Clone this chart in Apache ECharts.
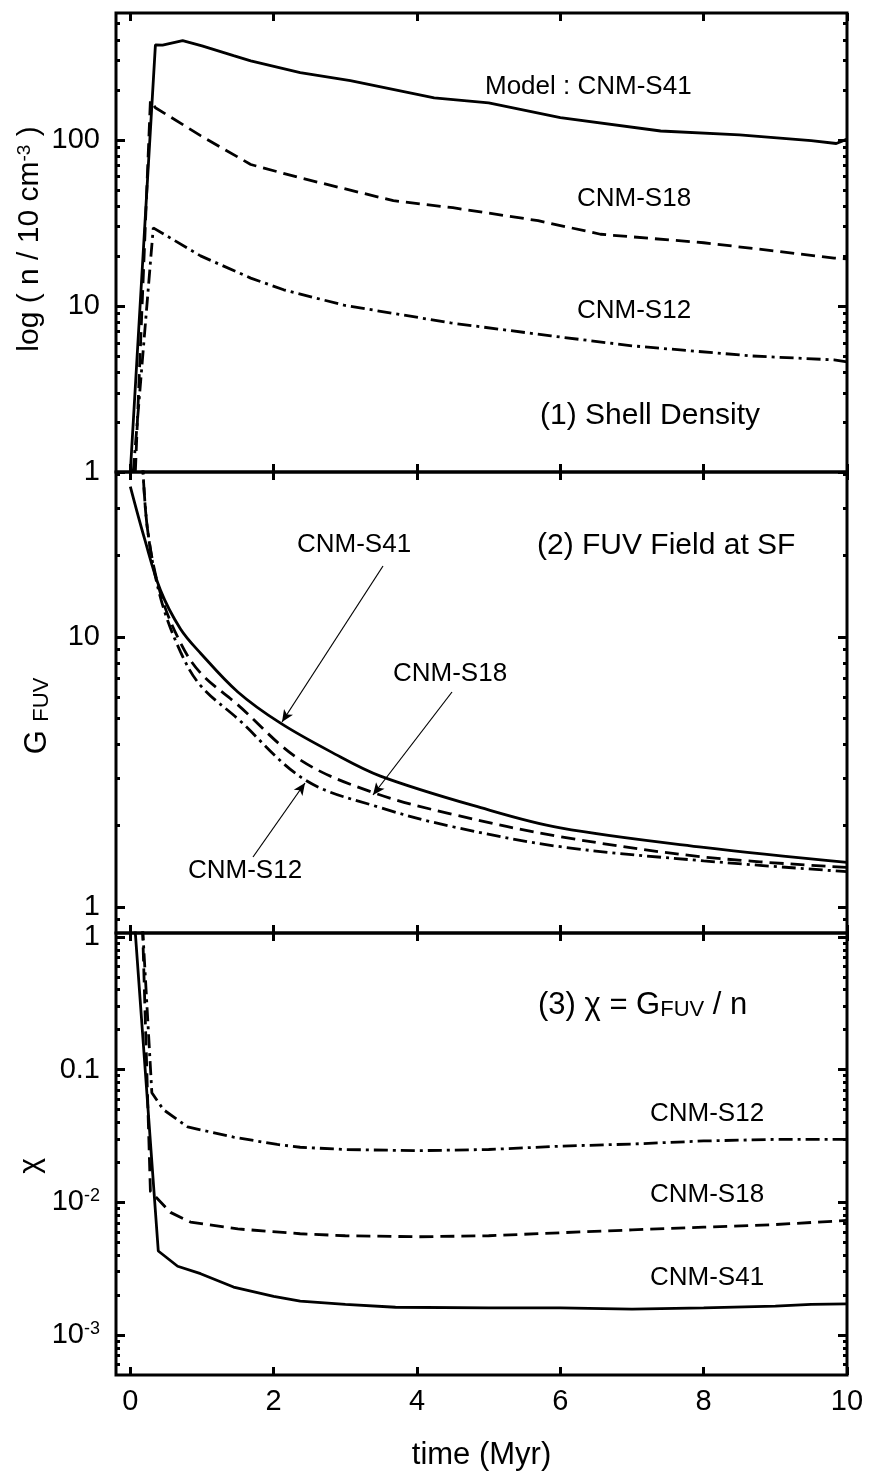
<!DOCTYPE html>
<html>
<head>
<meta charset="utf-8">
<title>Shell density, FUV field and chi</title>
<script src="https://cdn.jsdelivr.net/npm/echarts@6/dist/echarts.min.js"></script>
<style>
  html, body { margin: 0; padding: 0; background: #fff; }
  #chart { width: 874px; height: 1476px; }
</style>
</head>
<body>
<div id="chart"></div>
<script>
/* ---------- data ---------- */
// x ticks (time, Myr)
var xTicks = [0, 2, 4, 6, 8, 10];

// (1) shell density  n / 10 cm^-3
var tDens41 = [0, 0.35, 0.45, 0.73, 1.0, 1.44, 1.68, 2.37, 3.07, 4.24, 5.0, 6.0, 7.4, 8.5, 9.5, 9.85, 10];
var nDens41 = [1, 373, 372, 395, 368, 321, 299, 254, 227, 179, 167, 136, 113, 107, 99, 95, 101];
var tDens18 = [0.07, 0.28, 0.35, 0.98, 1.68, 2.37, 3.67, 4.5, 5.69, 6.56, 8.0, 9.0, 9.82, 10];
var nDens18 = [1, 172, 156, 106, 71, 59, 43, 39, 32.6, 27, 24, 21.4, 19.4, 19.2];
var tDens12 = [0.04, 0.32, 0.98, 1.68, 2.14, 2.98, 4.47, 5.87, 7.0, 8.66, 9.82, 10];
var nDens12 = [1, 29.5, 20, 14.7, 12.5, 10.1, 7.9, 6.6, 5.75, 5.0, 4.73, 4.6];

// (2) FUV field at the shock front
var tFuv41 = [0, 0.2, 0.42, 0.7, 0.98, 1.5, 2.09, 2.8, 3.49, 4.89, 6.0, 8.0, 10];
var gFuv41 = [36, 23, 14.9, 10.7, 8.7, 6.25, 4.8, 3.75, 3.05, 2.33, 1.96, 1.66, 1.46];
var tFuv18 = [0.17, 0.24, 0.42, 0.7, 0.98, 1.5, 2.37, 3.39, 4.5, 6.0, 8.0, 10];
var gFuv18 = [45, 25, 14.5, 9.5, 7.35, 5.6, 3.5, 2.65, 2.2, 1.82, 1.53, 1.40];
var tFuv12 = [0.17, 0.24, 0.42, 0.7, 0.98, 1.5, 2.44, 3.49, 4.5, 6.0, 8.0, 10];
var gFuv12 = [45, 25, 14.0, 8.8, 6.6, 4.97, 2.95, 2.33, 1.98, 1.67, 1.48, 1.35];

// (3) chi = G_FUV / n
var tChi41 = [0.05, 0.39, 0.66, 0.98, 1.44, 2.0, 2.37, 3.0, 3.7, 5.0, 6.0, 7.0, 8.0, 9.0, 9.5, 10];
var cChi41 = [1.5, 4.3e-3, 3.3e-3, 2.9e-3, 2.3e-3, 1.96e-3, 1.8e-3, 1.7e-3, 1.62e-3, 1.6e-3, 1.6e-3, 1.57e-3, 1.6e-3, 1.65e-3, 1.7e-3, 1.72e-3];
var tChi18 = [0.17, 0.28, 0.56, 0.84, 1.5, 2.37, 3.0, 4.0, 5.0, 6.0, 7.0, 8.0, 9.0, 10];
var cChi18 = [1.2, 0.0121, 8.4e-3, 7.1e-3, 6.3e-3, 5.8e-3, 5.6e-3, 5.5e-3, 5.6e-3, 5.9e-3, 6.2e-3, 6.5e-3, 6.8e-3, 7.3e-3];
var tChi12 = [0.17, 0.3, 0.46, 0.8, 1.44, 2.05, 2.37, 3.0, 4.0, 5.0, 6.0, 7.0, 8.0, 9.0, 10];
var cChi12 = [1.2, 0.067, 0.05, 0.037, 0.031, 0.0273, 0.026, 0.025, 0.0245, 0.025, 0.0265, 0.0275, 0.029, 0.0298, 0.0298];

// y ticks per panel
var yMajor1 = [1, 10, 100];
var yMinor1 = [2, 3, 4, 5, 6, 7, 8, 9, 20, 30, 40, 50, 60, 70, 80, 90, 200, 300, 400, 500];
var yMajor2 = [1, 10];
var yMinor2 = [0.9, 2, 3, 4, 5, 6, 7, 8, 9, 20, 30, 40];
var yMajor3 = [0.001, 0.01, 0.1, 1];
var yLabels3 = ['10{sup|-3}', '10{sup|-2}', '0.1', '1'];
var yMinor3 = [6e-4, 7e-4, 8e-4, 9e-4, 2e-3, 3e-3, 4e-3, 5e-3, 6e-3, 7e-3, 8e-3, 9e-3,
               0.02, 0.03, 0.04, 0.05, 0.06, 0.07, 0.08, 0.09, 0.2, 0.3, 0.4, 0.5, 0.6, 0.7, 0.8, 0.9];

/* ---------- styles ---------- */
var FONT = '"Liberation Sans", Arial, Helvetica, sans-serif';
var DASH18 = [14, 7];
var DASH12 = [14, 5, 3, 5];

var chart = echarts.init(document.getElementById('chart'));

// panel layout
var panels = [
  {top: 13, height: 459, min: 1, max: 580, major: yMajor1, minor: yMinor1, smooth: false},
  {top: 472, height: 461, min: 0.8, max: 40.8, major: yMajor2, minor: yMinor2, smooth: 0.35},
  {top: 933, height: 442, min: 5e-4, max: 1.07, major: yMajor3, minor: yMinor3, smooth: false}
];

function fmtY3(v) {
  var e = Math.round(Math.log(v) / Math.LN10);
  for (var i = 0; i < yMajor3.length; i++) {
    if (Math.round(Math.log(yMajor3[i]) / Math.LN10) === e) return yLabels3[i];
  }
  return '';
}

var grids = [], xAxes = [], yAxes = [];
panels.forEach(function (p, i) {
  grids.push({left: 116, right: 27, top: p.top, height: p.height, show: true,
    borderColor: '#000', borderWidth: 3, backgroundColor: 'transparent'});
  // bottom and top x axes (ticks only, labels on the last panel)
  ['bottom', 'top'].forEach(function (pos) {
    var last = (i === 2 && pos === 'bottom');
    xAxes.push({
      gridIndex: i, type: 'value', position: pos, min: -0.2, max: 10,
      axisLine: {show: false, onZero: false},
      axisTick: {show: true, inside: true, length: 8, customValues: xTicks,
        lineStyle: {color: '#000', width: 3}},
      axisLabel: {show: last, customValues: xTicks, margin: 12, color: '#000',
        fontFamily: FONT, fontSize: 29},
      splitLine: {show: false},
      name: last ? 'time (Myr)' : '', nameLocation: 'middle', nameGap: 65,
      nameTextStyle: {color: '#000', fontFamily: FONT, fontSize: 31}
    });
  });
  // left/right, major/minor y axes
  ['left', 'right'].forEach(function (pos) {
    [true, false].forEach(function (isMajor) {
      var withLabel = (pos === 'left' && isMajor);
      yAxes.push({
        gridIndex: i, type: 'log', position: pos, min: p.min, max: p.max,
        axisLine: {show: false, onZero: false},
        axisTick: {show: true, inside: true, length: isMajor ? 9 : 4,
          customValues: isMajor ? p.major : p.minor,
          lineStyle: {color: '#000', width: 3}},
        axisLabel: {show: withLabel, customValues: p.major, margin: 16, color: '#000',
          fontFamily: FONT, fontSize: 29,
          formatter: i === 2 ? fmtY3 : function (v) { return String(Math.round(v)); },
          rich: {sup: {fontSize: 18, fontFamily: FONT, color: '#000', verticalAlign: 'top', padding: [0, 0, 12, 0]}}},
        splitLine: {show: false}
      });
    });
  });
});

function pairs(ts, vs) {
  return ts.map(function (t, k) { return [t, vs[k]]; });
}
function curve(name, panel, ts, vs, dash, extra) {
  var s = {
    type: 'line', name: name, xAxisIndex: panel * 2, yAxisIndex: panel * 4,
    data: pairs(ts, vs), symbol: 'none', silent: true, clip: true,
    smooth: panels[panel].smooth,
    lineStyle: {color: '#000', width: 2.8, type: dash, cap: 'butt'}
  };
  if (extra) s.markLine = extra;
  return s;
}

// arrows in panel 2 (pixel positions)
var arrows = {
  silent: true, symbol: ['none', 'arrow'], symbolSize: [8, 12],
  label: {show: false},
  lineStyle: {color: '#000', width: 1.2, type: 'solid'},
  data: [
    [{x: 383, y: 566}, {x: 282, y: 722}],
    [{x: 452, y: 692}, {x: 373, y: 795}],
    [{x: 253, y: 857}, {x: 305, y: 783}]
  ]
};

var series = [
  curve('CNM-S41', 0, tDens41, nDens41, 'solid'),
  curve('CNM-S18', 0, tDens18, nDens18, DASH18),
  curve('CNM-S12', 0, tDens12, nDens12, DASH12),
  curve('CNM-S41', 1, tFuv41, gFuv41, 'solid', arrows),
  curve('CNM-S18', 1, tFuv18, gFuv18, DASH18),
  curve('CNM-S12', 1, tFuv12, gFuv12, DASH12),
  curve('CNM-S41', 2, tChi41, cChi41, 'solid'),
  curve('CNM-S18', 2, tChi18, cChi18, DASH18),
  curve('CNM-S12', 2, tChi12, cChi12, DASH12)
];

// rich text pieces shared by titles and notes
function richSet(size) {
  return {
    m: {fontSize: size, fontFamily: FONT, fill: '#000', verticalAlign: 'bottom'},
    s: {fontSize: Math.round(size * 0.72), fontFamily: FONT, fill: '#000', verticalAlign: 'bottom'},
    sup: {fontSize: Math.round(size * 0.64), fontFamily: FONT, fill: '#000', verticalAlign: 'top'}
  };
}

// text annotations
function note(text, x, y, size) {
  return {type: 'text', left: x, top: y - size * 0.6, silent: true,
    style: {text: text, fill: '#000', font: size + 'px ' + FONT, rich: richSet(size)}};
}
// rotated axis titles, centred on (x, y)
function yTitle(text, x, y, size) {
  return {type: 'text', x: x, y: y, rotation: Math.PI / 2, silent: true,
    style: {text: text, fill: '#000', font: size + 'px ' + FONT, align: 'center',
      verticalAlign: 'middle', rich: richSet(size)}};
}
var notes = [
  yTitle('{m|log ( n / 10 cm}{sup|-3}{m| )}', 30, 239, 30),
  yTitle('{m|G }{s|FUV}', 37, 716, 31),
  yTitle('{m|χ}', 31, 1166, 30),
  note('Model : CNM-S41', 485, 89, 26),
  note('CNM-S18', 577, 201, 26),
  note('CNM-S12', 577, 313, 26),
  note('(1) Shell Density', 540, 419, 30),
  note('(2) FUV Field at SF', 537, 549, 30),
  note('CNM-S41', 297, 547, 26),
  note('CNM-S18', 393, 676, 26),
  note('CNM-S12', 188, 873, 26),
  note('{m|(3) χ = G}{s|FUV}{m| / n}', 538, 1009, 31),
  note('CNM-S12', 650, 1116, 26),
  note('CNM-S18', 650, 1197, 26),
  note('CNM-S41', 650, 1280, 26)
];

chart.setOption({
  animation: false,
  backgroundColor: '#fff',
  textStyle: {fontFamily: FONT, color: '#000'},
  grid: grids,
  xAxis: xAxes,
  yAxis: yAxes,
  series: series,
  graphic: notes
});
</script>
</body>
</html>
